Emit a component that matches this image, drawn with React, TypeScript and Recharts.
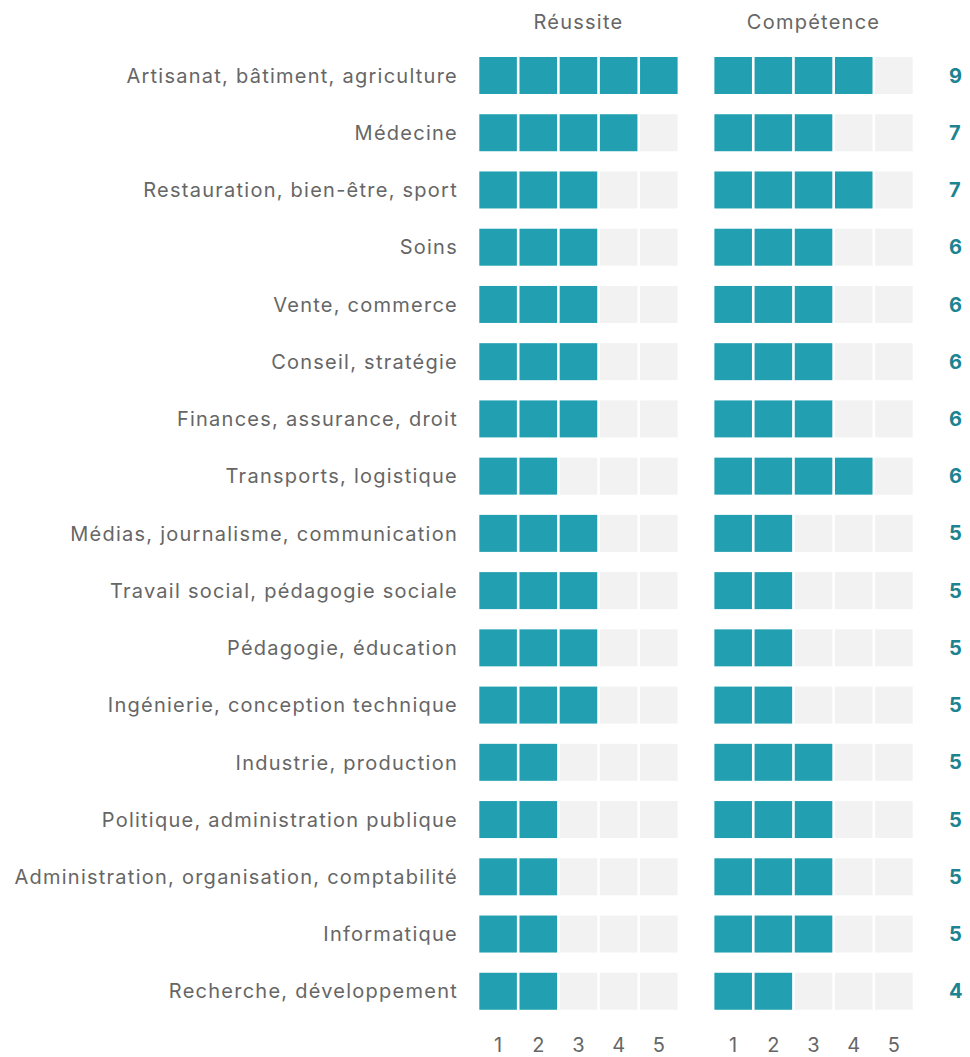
import React from "react";
import { BarChart, Bar, XAxis, YAxis, LabelList } from "recharts";

const categories = [
  "Artisanat, bâtiment, agriculture",
  "Médecine",
  "Restauration, bien-être, sport",
  "Soins",
  "Vente, commerce",
  "Conseil, stratégie",
  "Finances, assurance, droit",
  "Transports, logistique",
  "Médias, journalisme, communication",
  "Travail social, pédagogie sociale",
  "Pédagogie, éducation",
  "Ingénierie, conception technique",
  "Industrie, production",
  "Politique, administration publique",
  "Administration, organisation, comptabilité",
  "Informatique",
  "Recherche, développement",
];
const reussite = [5, 4, 3, 3, 3, 3, 3, 2, 3, 3, 3, 3, 2, 2, 2, 2, 2];
const competence = [4, 3, 4, 3, 3, 3, 3, 4, 2, 2, 2, 2, 3, 3, 3, 3, 2];
const panelTitles = ["Réussite", "Compétence"];
const scaleLabels = ["1", "2", "3", "4", "5"];

const MAX = 5;
const GAP = 0.85;
const TEAL = "#22a0b1";
const EMPTY = "#f2f2f2";
const TOTAL_COLOR = "#1b8391";
const TEXT = "#666666";
const FONT = "Inter, 'Noto Sans', sans-serif";
const LS = "1.25px";

const data = categories.map((name, i) => {
  const row: any = {
    name,
    reussite: reussite[i],
    competence: competence[i],
    total: reussite[i] + competence[i],
    gap: GAP,
  };
  for (let k = 1; k <= MAX; k++) {
    row["r" + k] = 1;
    row["c" + k] = 1;
  }
  return row;
});

const makeShape = (key: "reussite" | "competence", k: number) => (props: any) => {
  const { x, y, width, height, payload } = props;
  const filled = payload[key] >= k;
  return (
    <rect
      x={x + 1.3}
      y={y}
      width={Math.max(0, width - 2.6)}
      height={height}
      fill={filled ? TEAL : EMPTY}
    />
  );
};

const topTicks = [MAX / 2, MAX + GAP + MAX / 2];
const bottomTicks = [
  ...scaleLabels.map((_, i) => i + 0.5),
  ...scaleLabels.map((_, i) => MAX + GAP + i + 0.5),
];

export default function App() {
  const idx = [1, 2, 3, 4, 5];
  return (
    <div style={{ position: "absolute", left: 0, top: 0 }}>
      <BarChart
        width={970}
        height={1057}
        data={data}
        layout="vertical"
        margin={{ top: 0, right: 56, bottom: 0, left: 0 }}
        barSize={37}
        style={{ fontFamily: FONT }}
      >
        <XAxis
          xAxisId="top"
          orientation="top"
          type="number"
          domain={[0, 2 * MAX + GAP]}
          allowDataOverflow
          ticks={topTicks}
          tickFormatter={(v: number) => (v < MAX ? panelTitles[0] : panelTitles[1])}
          axisLine={false}
          tickLine={false}
          tickSize={0}
          tickMargin={18}
          height={47}
          interval={0}
          tick={{ fill: TEXT, fontSize: 20, fontFamily: FONT, letterSpacing: LS }}
        />
        <XAxis
          xAxisId="bottom"
          orientation="bottom"
          type="number"
          domain={[0, 2 * MAX + GAP]}
          allowDataOverflow
          ticks={bottomTicks}
          tickFormatter={(v: number) =>
            scaleLabels[Math.floor(v < MAX ? v : v - MAX - GAP)]
          }
          axisLine={false}
          tickLine={false}
          tickSize={0}
          tickMargin={18}
          height={37}
          interval={0}
          tick={{ fill: TEXT, fontSize: 20, fontFamily: FONT }}
        />
        <YAxis
          type="category"
          dataKey="name"
          width={478}
          axisLine={false}
          tickLine={false}
          tickSize={0}
          tickMargin={20}
          interval={0}
          tick={{ fill: TEXT, fontSize: 20, fontFamily: FONT, letterSpacing: LS }}
        />
        {idx.map((k) => (
          <Bar
            key={"r" + k}
            xAxisId="bottom"
            dataKey={"r" + k}
            stackId="s"
            isAnimationActive={false}
            shape={makeShape("reussite", k)}
          />
        ))}
        <Bar
          xAxisId="bottom"
          dataKey="gap"
          stackId="s"
          isAnimationActive={false}
          fill="transparent"
          shape={() => null}
        />
        {idx.map((k) => (
          <Bar
            key={"c" + k}
            xAxisId="bottom"
            dataKey={"c" + k}
            stackId="s"
            isAnimationActive={false}
            shape={makeShape("competence", k)}
          >
            {k === MAX ? (
              <LabelList
                dataKey="total"
                position="right"
                offset={35}
                fill={TOTAL_COLOR}
                fontSize={20}
                fontWeight="bold"
                fontFamily={FONT}
              />
            ) : null}
          </Bar>
        ))}
      </BarChart>
    </div>
  );
}
